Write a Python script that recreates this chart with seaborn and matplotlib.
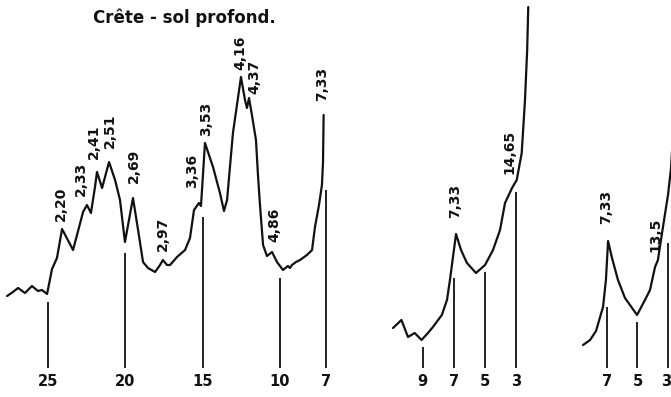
import matplotlib
matplotlib.use("Agg")
import matplotlib.pyplot as plt
import seaborn as sns
import pandas as pd

# ---- diffractogram: deep soil, crest -------------------------------------
TITLE = "Crête - sol profond."

# Panel 1: raw sample, 2-theta (deg) and intensity (arbitrary units)
p1_theta = [27.65, 27.27, 26.94, 26.49, 26.04, 25.65, 25.39, 25.06, 24.74, 24.42,
            24.09, 23.38, 22.73, 22.48, 22.22, 21.96, 21.83, 21.50, 21.05, 20.66,
            20.34, 20.02, 19.50, 19.17, 18.85, 18.53, 18.07, 17.75, 17.56, 17.30,
            17.10, 16.65, 16.13, 15.81, 15.55, 15.23, 15.10, 14.97, 14.84, 14.32,
            13.87, 13.61, 13.41, 13.03, 12.51, 12.25, 12.12, 11.99, 11.80, 11.54,
            11.41, 11.28, 11.08, 10.83, 10.50, 10.18, 9.79, 9.47, 9.34, 9.21,
            8.95, 8.69, 8.24, 7.91, 7.72, 7.46, 7.27, 7.20, 7.16]
p1_int = [72, 76, 80, 75, 82, 77, 78, 74, 99, 110,
          139, 118, 156, 163, 155, 181, 196, 180, 206, 188,
          168, 126, 170, 138, 106, 100, 96, 103, 108, 103,
          103, 111, 118, 130, 158, 165, 162, 193, 225, 201,
          175, 157, 168, 235, 291, 268, 260, 270, 253, 228,
          193, 163, 123, 112, 116, 106, 98, 102, 100, 103,
          106, 108, 113, 118, 141, 163, 183, 206, 253]
p1_ticks = [25, 20, 15, 10, 7]
p1_tick_top = [66, 115, 151, 90, 178]
p1_tick_label_at = [25, 20, 15, 10, 7]
p1_peaks = ["2,20", "2,33", "2,41", "2,51", "2,69", "2,97", "3,36", "3,53",
            "4,16", "4,37", "4,86", "7,33"]
p1_peak_theta = [24.16, 22.86, 22.02, 20.99, 19.43, 17.56, 15.68, 14.77,
                 12.57, 11.67, 10.37, 7.27]
p1_peak_int = [164, 189, 226, 237, 202, 134, 197, 249, 315, 291, 143, 284]

# Panel 2: low-angle region
p2_theta = [10.91, 10.37, 9.95, 9.52, 9.08, 8.67, 8.35, 7.78, 7.45, 7.26,
            6.87, 6.55, 6.17, 5.59, 5.01, 4.50, 4.05, 3.73, 3.28, 2.98,
            2.66, 2.45, 2.31, 2.24]
p2_int = [40, 48, 31, 35, 28, 35, 41, 53, 68, 88,
          134, 118, 105, 95, 103, 118, 138, 165, 180, 188,
          215, 268, 318, 361]
p2_ticks = [9, 7, 5, 3]
p2_tick_top = [21, 90, 96, 176]
p2_tick_label_at = [9, 7, 5, 3]
p2_peaks = ["7,33", "14,65"]
p2_peak_theta = [6.94, 3.47]
p2_peak_int = [167, 216]

# Panel 3: low-angle region, second treatment
p3_theta = [8.57, 8.11, 7.72, 7.26, 7.07, 6.93, 6.67, 6.28, 5.82, 5.03,
            4.51, 4.18, 3.85, 3.66, 3.33, 3.00, 2.80, 2.61]
p3_int = [23, 28, 37, 61, 88, 127, 110, 88, 70, 53,
          68, 78, 101, 108, 141, 173, 200, 250]
p3_ticks = [7, 5, 3]
p3_tick_top = [61, 46, 125]
p3_tick_label_at = [7, 5, 3.13]
p3_peaks = ["7,33", "13,5"]
p3_peak_theta = [7.07, 3.85]
p3_peak_int = [161, 133]

sns.set_style("white")
plt.rcParams["font.family"] = ["DejaVu Sans"]

W, H = 671, 397
fig = plt.figure(figsize=(W / 100, H / 100), dpi=100)
fig.patch.set_facecolor("white")

INK = "#111111"
YLIM = (-29, 368)
LABEL_FS = 10
TICK_FS = 10.5


def panel(left_px, width_px, xlim, theta, inten, ticks, tops, tick_at,
          peaks, ptheta, pint):
    ax = fig.add_axes([left_px / W, 0, width_px / W, 1])
    ax.set_xlim(*xlim)
    ax.set_ylim(*YLIM)
    df = pd.DataFrame({"theta": theta, "I": inten})
    sns.lineplot(data=df, x="theta", y="I", ax=ax, sort=False,
                 estimator=None, color=INK, lw=1.6)
    ax.vlines(ticks, 0, tops, color=INK, lw=1.3)
    for t, at in zip(ticks, tick_at):
        ax.text(at, -14, str(t), ha="center", va="center",
                fontsize=TICK_FS, fontweight="bold", color=INK)
    for lab, t, v in zip(peaks, ptheta, pint):
        ax.text(t, v, lab, rotation=90, ha="center", va="center",
                fontsize=LABEL_FS, fontweight="bold", color=INK)
    ax.set_axis_off()
    return ax


panel(0, 345, (28.107, 5.777), p1_theta, p1_int, p1_ticks, p1_tick_top,
      p1_tick_label_at, p1_peaks, p1_peak_theta, p1_peak_int)
panel(375, 170, (12.064, 1.167), p2_theta, p2_int, p2_ticks, p2_tick_top,
      p2_tick_label_at, p2_peaks, p2_peak_theta, p2_peak_int)
panel(570, 101, (9.426, 2.803), p3_theta, p3_int, p3_ticks, p3_tick_top,
      p3_tick_label_at, p3_peaks, p3_peak_theta, p3_peak_int)

fig.text(184 / W, 1 - 18 / H, TITLE, ha="center", va="center",
         fontsize=12, fontweight="bold", color=INK)

fig.savefig("out.png", dpi=100, facecolor="white")
